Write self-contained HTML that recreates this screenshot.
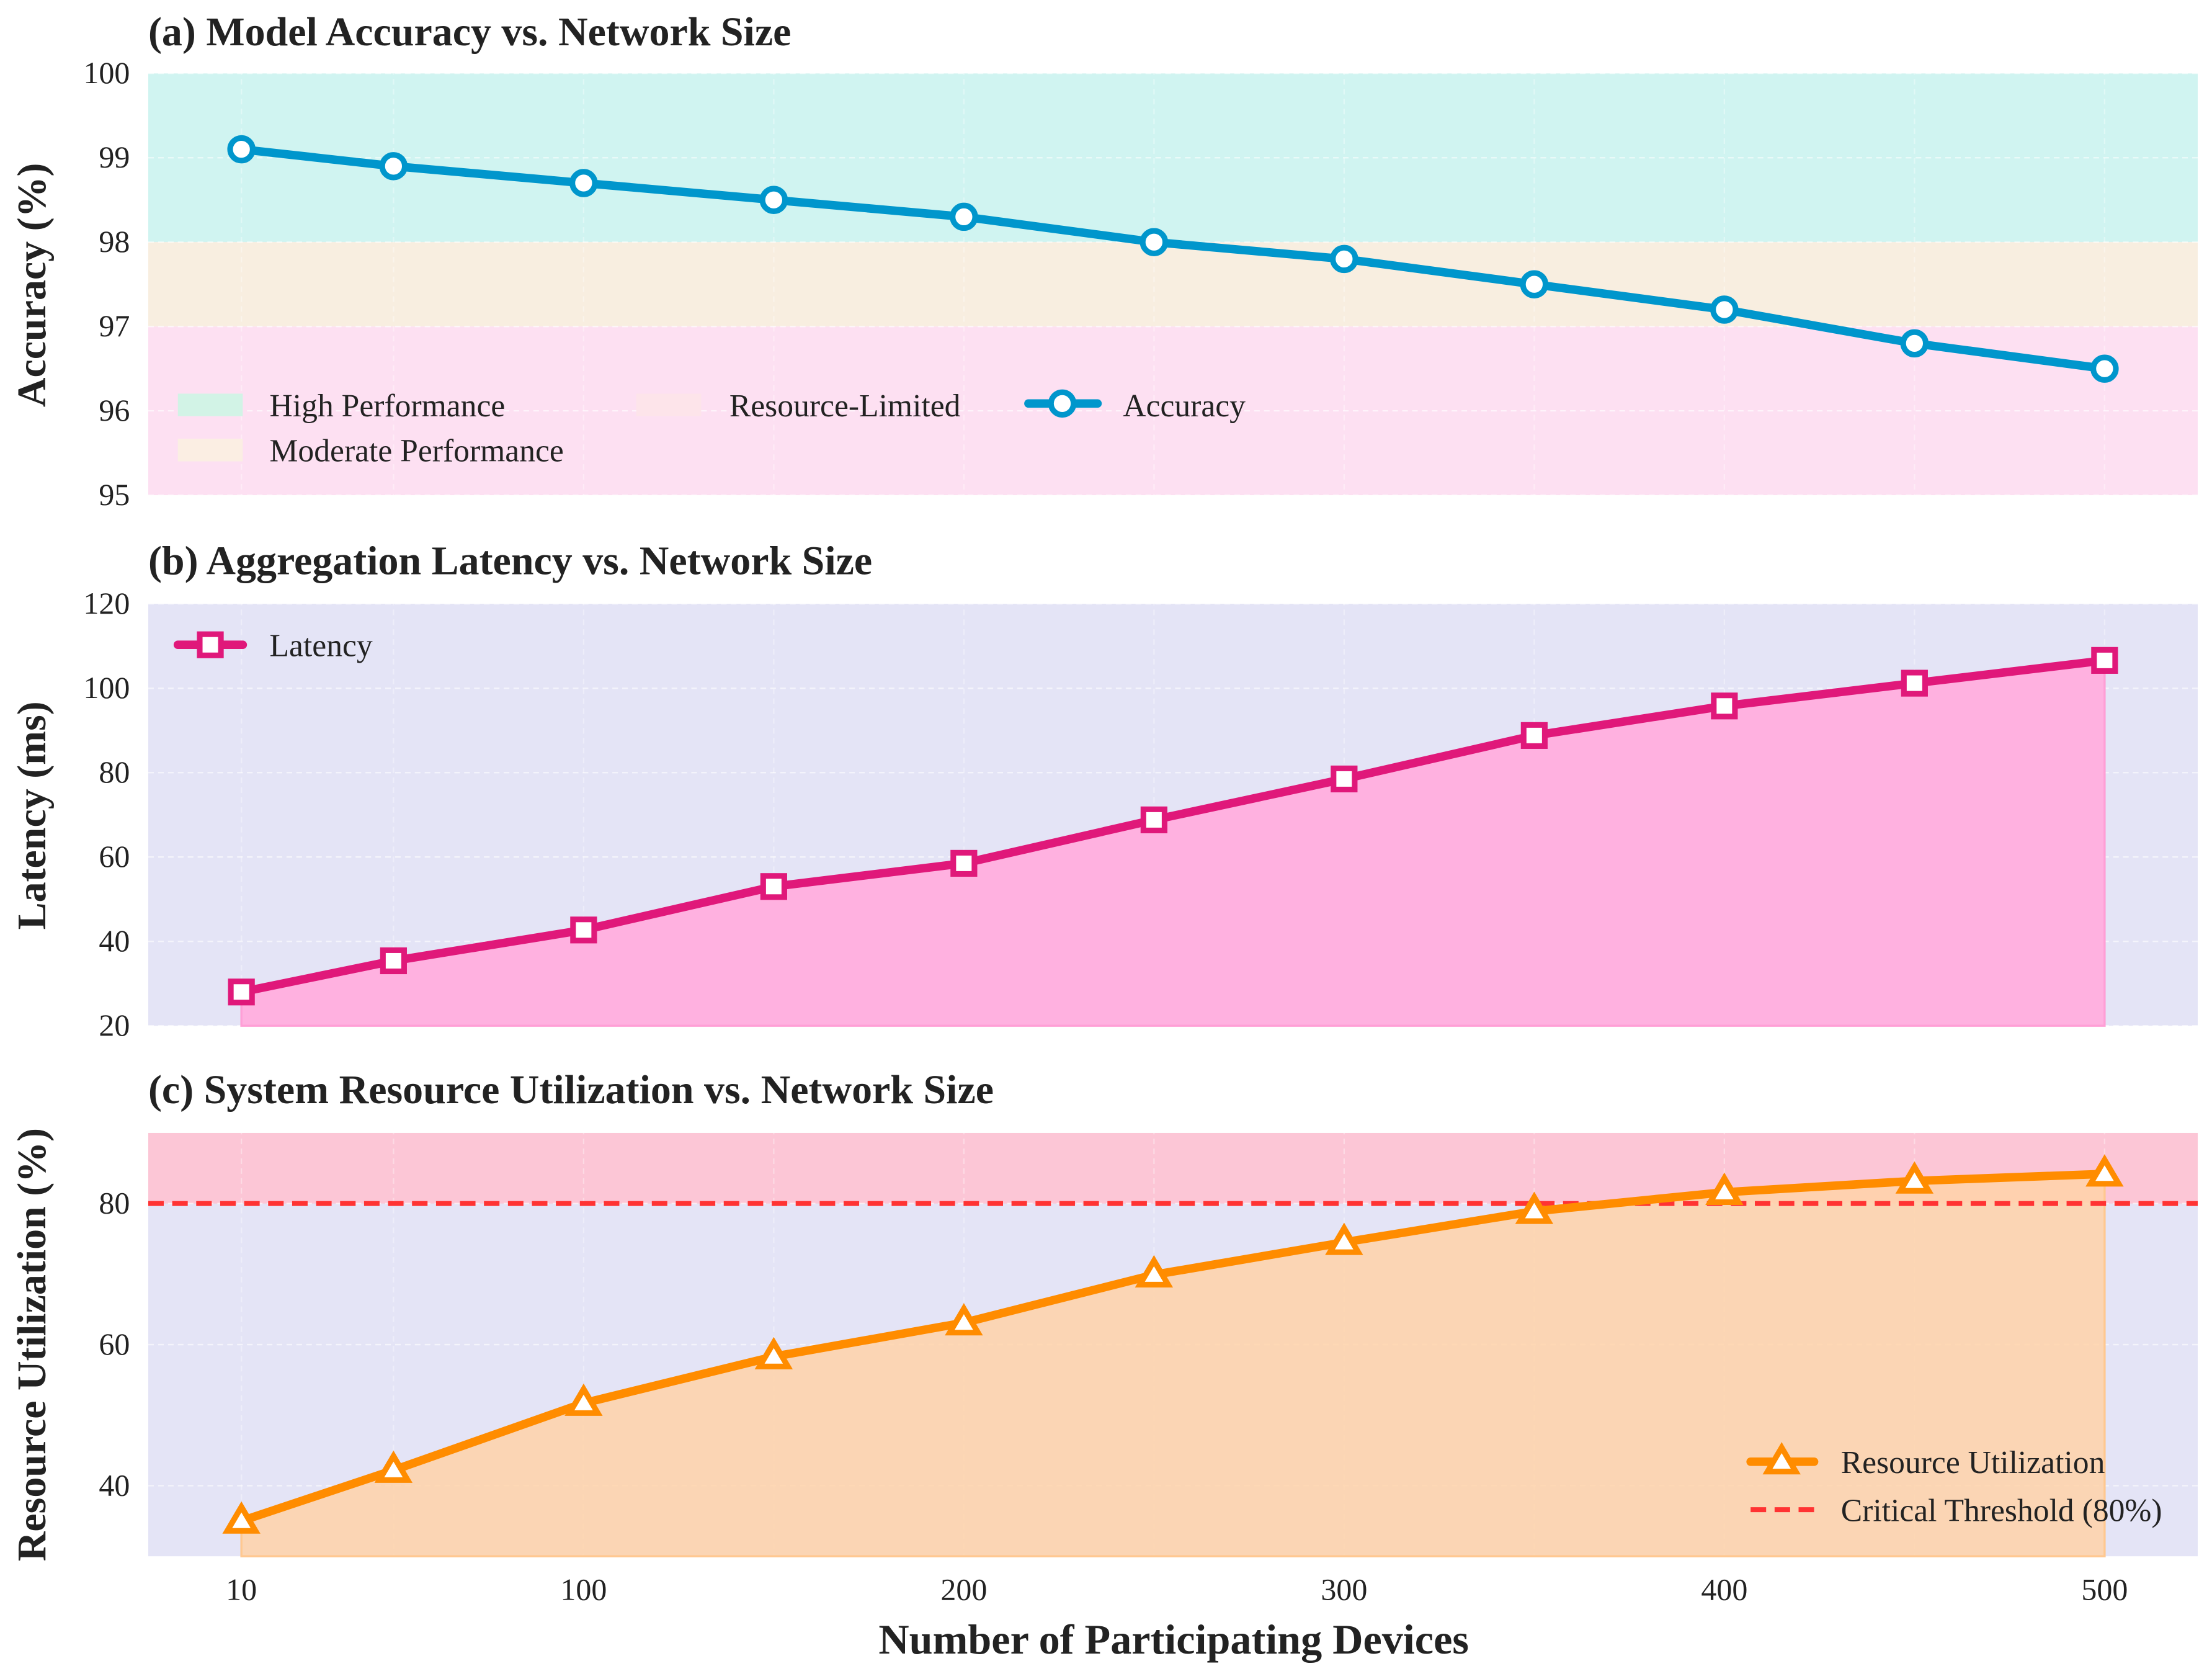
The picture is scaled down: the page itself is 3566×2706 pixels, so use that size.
<!DOCTYPE html>
<html><head><meta charset="utf-8"><style>
html,body{margin:0;padding:0;background:#fff;width:3566px;height:2706px;overflow:hidden}
svg{display:block}
text{font-family:"Liberation Serif",serif;fill:#222}
</style></head><body>
<svg id="chart" width="3566" height="2706" viewBox="0 0 1568 1190" xmlns="http://www.w3.org/2000/svg"></svg>
<script>
const devices=[10,50,100,150,200,250,300,350,400,450,500];
const accuracy=[99.1,98.9,98.7,98.5,98.3,98.0,97.8,97.5,97.2,96.8,96.5];
const latency=[28,35.4,42.7,53,58.5,68.8,78.5,88.8,95.8,101.2,106.6];
const resource=[35,42.2,51.7,58.3,63.1,69.9,74.5,78.9,81.6,83.2,84.2];
const xTicks=[10,100,200,300,400,500];
const accTicks=[95,96,97,98,99,100];
const latTicks=[20,40,60,80,100,120];
const resTicks=[40,60,80];
const threshold=[80];

const NS="http://www.w3.org/2000/svg";
const svg=document.getElementById('chart');
function el(tag,attrs,parent,txt){const e=document.createElementNS(NS,tag);for(const k in attrs)e.setAttribute(k,attrs[k]);if(txt!==undefined)e.textContent=txt;(parent||svg).appendChild(e);return e;}
const X0=105,X1=1558,xmin=-14.5,xmax=524.5;
const xs=v=>X0+(v-xmin)/(xmax-xmin)*(X1-X0);
function yScale(top,bot,lo,hi){return v=>bot-(v-lo)/(hi-lo)*(bot-top);}
const ya=yScale(52,351,95,100), yb=yScale(428,727,20,120), yc=yScale(803,1103,30,90);
const TF=22, LF=22.7, HF=29;

function grid(ticks,ys,g){
  ticks.forEach(t=>{const l=el('line',{x1:X0,x2:X1,y1:ys(t),y2:ys(t),stroke:'#fff','stroke-opacity':0.6,'stroke-dasharray':'4 3','stroke-width':1},g);
  });
  xTicks.concat([50,150,250,350,450]).forEach(t=>{const l=el('line',{x1:xs(t),x2:xs(t),y1:ys(ticks[0])-400,y2:ys(ticks[0])+400,stroke:'#fff','stroke-opacity':0.35,'stroke-dasharray':'4 3','stroke-width':1},g);
  });
}
function yLabels(ticks,ys,g){
  ticks.forEach(t=>{const tx=el('text',{x:92,y:ys(t)+7,'text-anchor':'end','font-size':TF},g,String(t));
  });
}
function pathFrom(vals,ys){return vals.map((v,i)=>(i?'L':'M')+xs(devices[i])+','+ys(v)).join(' ');}

// ---- Panel A ----
const ga=el('g',{});
const clipA=el('clipPath',{id:'ca'},ga);el('rect',{x:X0,y:52,width:X1-X0,height:299},clipA);
const gaIn=el('g',{'clip-path':'url(#ca)'},ga);
el('rect',{x:X0,y:ya(100),width:X1-X0,height:ya(98)-ya(100),fill:'#d0f4f1',},gaIn);
el('rect',{x:X0,y:ya(98),width:X1-X0,height:ya(97)-ya(98),fill:'#f8eee0',},gaIn);
el('rect',{x:X0,y:ya(97),width:X1-X0,height:ya(95)-ya(97),fill:'#fde0f2',},gaIn);
grid(accTicks,ya,gaIn);
el('text',{x:105,y:32,'font-size':HF,'font-weight':'bold',},ga,'(a) Model Accuracy vs. Network Size');
yLabels(accTicks,ya,ga);
el('text',{transform:'translate(32,202) rotate(-90)','text-anchor':'middle','font-size':HF,'font-weight':'bold',},ga,'Accuracy (%)');
el('path',{d:pathFrom(accuracy,ya),fill:'none',stroke:'#0096cc','stroke-width':6,'stroke-linejoin':'round',},ga);
accuracy.forEach((v,i)=>{const c=el('circle',{cx:xs(devices[i]),cy:ya(v),r:8,fill:'#fff',stroke:'#0096cc','stroke-width':4},ga);
});
const la=el('g',{},ga);
el('rect',{x:126,y:279,width:46,height:16,fill:'#d2f3e6'},la);
el('text',{x:191,y:295,'font-size':LF},la,'High Performance');
el('rect',{x:126,y:311,width:46,height:16,fill:'#fbeee3'},la);
el('text',{x:191,y:327,'font-size':LF},la,'Moderate Performance');
el('rect',{x:451,y:279,width:46,height:16,fill:'#fde4ea'},la);
el('text',{x:517,y:295,'font-size':LF},la,'Resource-Limited');
el('line',{x1:729,x2:778,y1:286,y2:286,stroke:'#0096cc','stroke-width':6,'stroke-linecap':'round'},la);
el('circle',{cx:753,cy:286,r:8,fill:'#fff',stroke:'#0096cc','stroke-width':4},la);
el('text',{x:796,y:295,'font-size':LF},la,'Accuracy');

// ---- Panel B ----
const gb=el('g',{});
el('rect',{x:X0,y:428,width:X1-X0,height:299,fill:'#e4e4f6',},gb);
const clipB=el('clipPath',{id:'cb'},gb);el('rect',{x:X0,y:428,width:X1-X0,height:299},clipB);
grid(latTicks,yb,el('g',{'clip-path':'url(#cb)'},gb));
el('path',{d:pathFrom(latency,yb)+` L${xs(500)},${yb(20)} L${xs(10)},${yb(20)} Z`,fill:'#ffb1e0',stroke:'#ff9fd6','stroke-width':1.5,},gb);
el('text',{x:105,y:407,'font-size':HF,'font-weight':'bold',},gb,'(b) Aggregation Latency vs. Network Size');
yLabels(latTicks,yb,gb);
el('text',{transform:'translate(32,578) rotate(-90)','text-anchor':'middle','font-size':HF,'font-weight':'bold',},gb,'Latency (ms)');
el('path',{d:pathFrom(latency,yb),fill:'none',stroke:'#e0187a','stroke-width':6,'stroke-linejoin':'round',},gb);
latency.forEach((v,i)=>{const r=el('rect',{x:xs(devices[i])-7.5,y:yb(v)-7.5,width:15,height:15,fill:'#fff',stroke:'#e0187a','stroke-width':4},gb);
});
const lb=el('g',{},gb);
el('line',{x1:126,x2:172,y1:457,y2:457,stroke:'#e0187a','stroke-width':6,'stroke-linecap':'round'},lb);
el('rect',{x:141.5,y:449.5,width:15,height:15,fill:'#fff',stroke:'#e0187a','stroke-width':4},lb);
el('text',{x:191,y:465,'font-size':LF},lb,'Latency');

// ---- Panel C ----
const gc=el('g',{});
el('rect',{x:X0,y:803,width:X1-X0,height:300,fill:'#e4e4f6',},gc);
el('rect',{x:X0,y:yc(90),width:X1-X0,height:yc(threshold[0])-yc(90),fill:'#fcc6d6',},gc);
const clipC=el('clipPath',{id:'cc'},gc);el('rect',{x:X0,y:803,width:X1-X0,height:300},clipC);
grid(resTicks,yc,el('g',{'clip-path':'url(#cc)'},gc));
el('path',{d:pathFrom(resource,yc)+` L${xs(500)},${yc(30)} L${xs(10)},${yc(30)} Z`,fill:'#ffd2a8','fill-opacity':0.85,stroke:'#ffc890','stroke-width':1.5,},gc);
el('line',{x1:X0,x2:X1,y1:yc(threshold[0]),y2:yc(threshold[0]),stroke:'#ff3333','stroke-width':3.5,'stroke-dasharray':'11 6',},gc);
el('text',{x:105,y:782,'font-size':HF,'font-weight':'bold',},gc,'(c) System Resource Utilization vs. Network Size');
yLabels(resTicks,yc,gc);
el('text',{transform:'translate(32,953) rotate(-90)','text-anchor':'middle','font-size':HF,'font-weight':'bold',},gc,'Resource Utilization (%)');
el('path',{d:pathFrom(resource,yc),fill:'none',stroke:'#ff8c00','stroke-width':6,'stroke-linejoin':'round',},gc);
resource.forEach((v,i)=>{const x=xs(devices[i]),y=yc(v);
const t=el('path',{d:`M${x},${y-10} L${x+10},${y+7} L${x-10},${y+7} Z`,fill:'#fff',stroke:'#ff8c00','stroke-width':4,'stroke-linejoin':'miter'},gc);
});
const lc=el('g',{},gc);
el('line',{x1:1241,x2:1286,y1:1036,y2:1036,stroke:'#ff8c00','stroke-width':6,'stroke-linecap':'round'},lc);
el('path',{d:'M1263,1026 L1273,1043 L1253,1043 Z',fill:'#fff',stroke:'#ff8c00','stroke-width':4},lc);
el('text',{x:1305,y:1044,'font-size':LF},lc,'Resource Utilization');
el('line',{x1:1241,x2:1286,y1:1070,y2:1070,stroke:'#ff3333','stroke-width':3.5,'stroke-dasharray':'11 6'},lc);
el('text',{x:1305,y:1078,'font-size':LF},lc,'Critical Threshold (80%)');

xTicks.forEach(t=>{const tx=el('text',{x:xs(t),y:1134,'text-anchor':'middle','font-size':TF});
tx.textContent=String(t);});
el('text',{x:832,y:1172,'text-anchor':'middle','font-size':30,'font-weight':'bold',},svg,'Number of Participating Devices');
</script>
</body></html>
